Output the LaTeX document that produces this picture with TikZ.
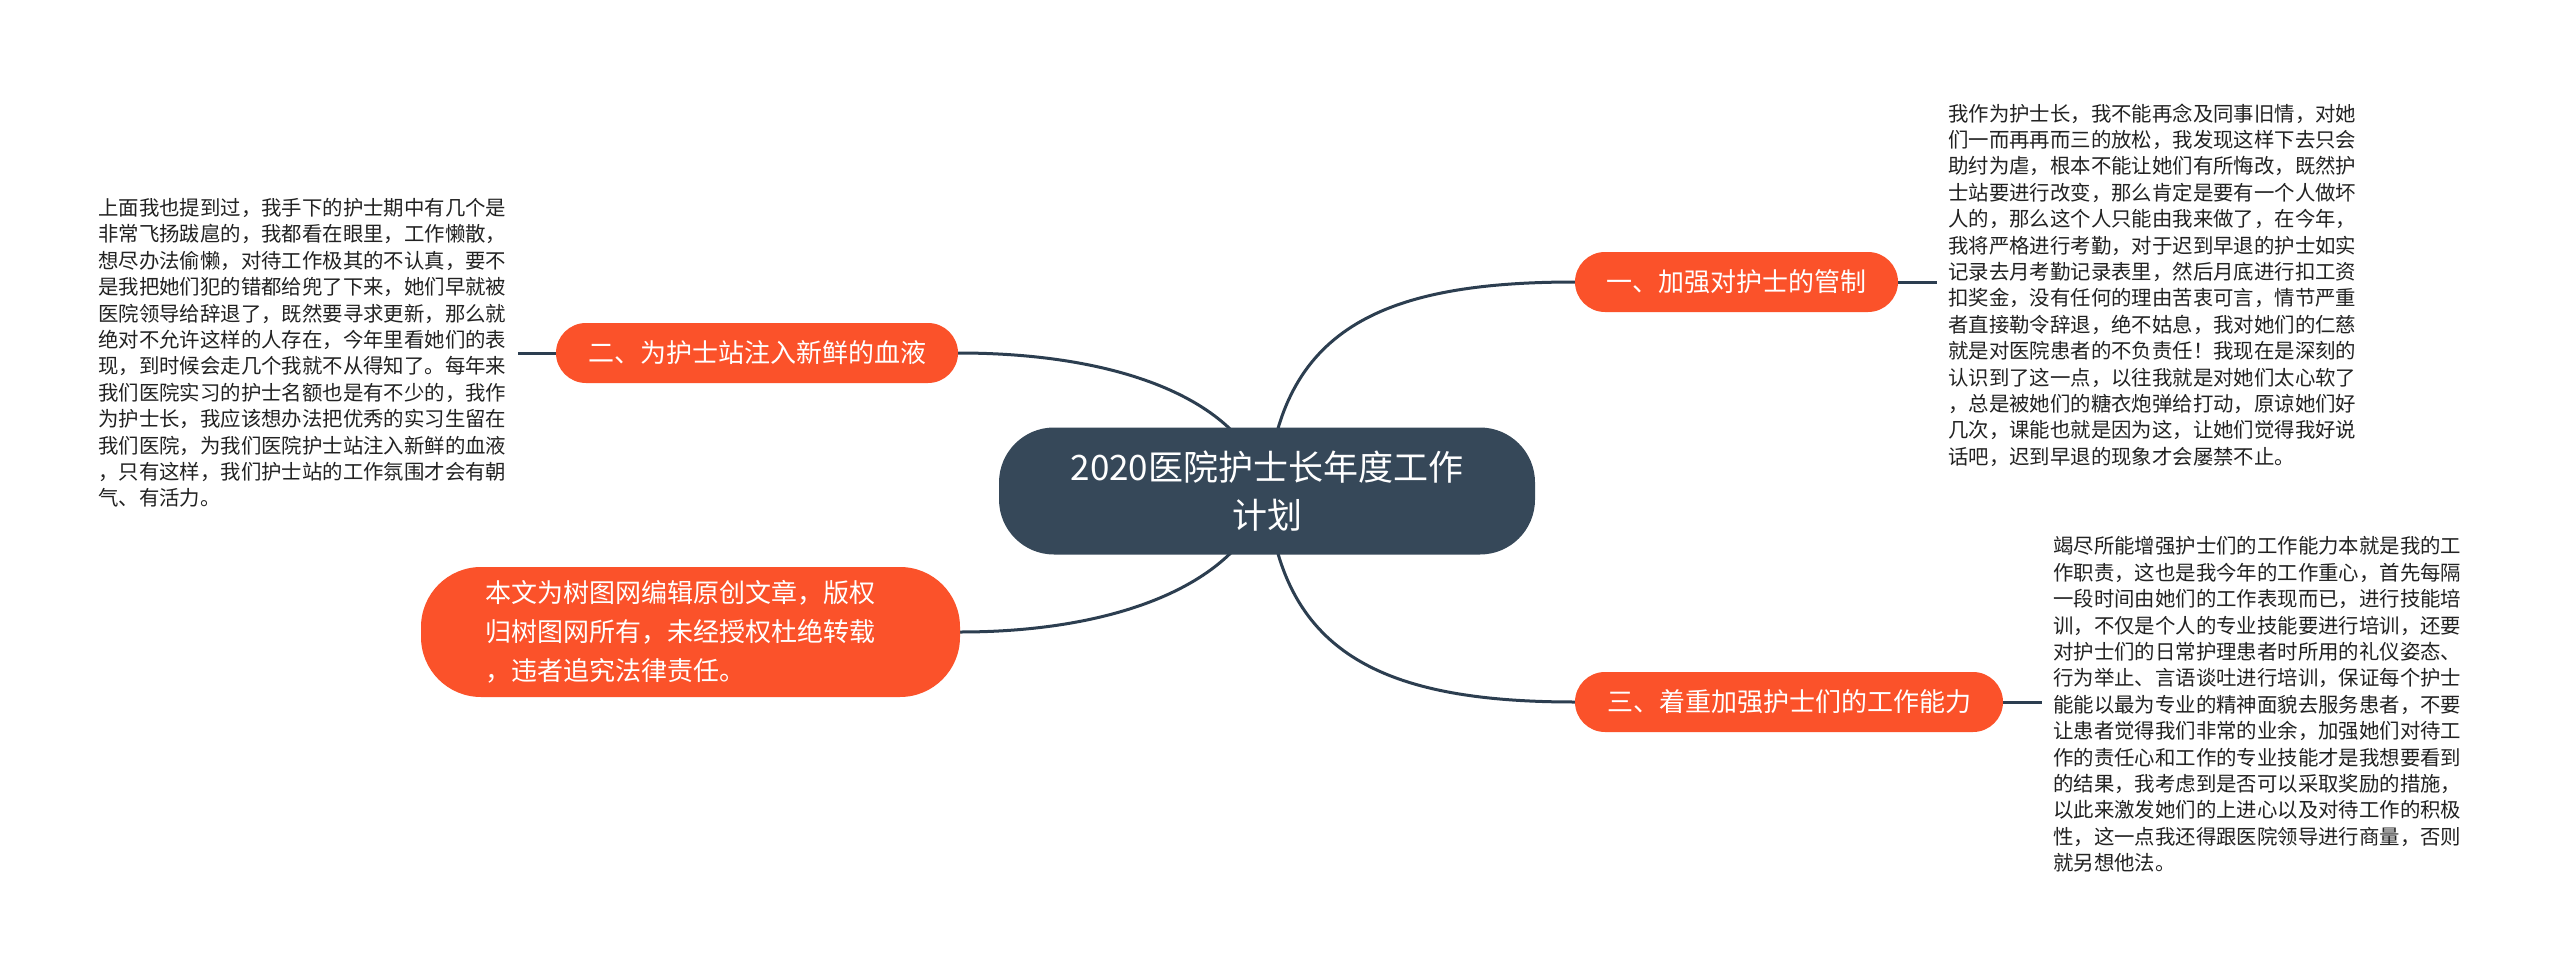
\documentclass[tikz,border=0pt]{standalone}
\usepackage{fontspec}
\usetikzlibrary{backgrounds}
\newfontfamily\cjk{Noto Sans CJK SC}
\definecolor{cenfill}{RGB}{54,72,89}
\definecolor{orangefill}{RGB}{251,82,42}
\definecolor{linecol}{RGB}{44,62,80}
\definecolor{bodytext}{RGB}{34,34,34}
\tikzset{
  central/.style={fill=cenfill, text=white, rounded corners=55pt, minimum width=536pt, minimum height=127pt, inner sep=0pt, align=center, font=\cjk\fontsize{35}{48}\selectfont},
  branchbox/.style={fill=orangefill, text=white, rounded corners=30pt, minimum height=60pt, inner sep=0pt, font=\cjk\fontsize{26}{30}\selectfont},
  notebox/.style={fill=orangefill, text=white, rounded corners=60pt, minimum height=130pt, inner ysep=0pt, inner xsep=64pt, text width=411pt, align=left, font=\cjk\fontsize{26}{39}\selectfont},
  bodyblock/.style={anchor=west, inner sep=0pt, align=left, text=bodytext, font=\cjk\fontsize{20.4}{26.4}\selectfont},
  conn/.style={draw=linecol, line width=3pt}
}
\begin{document}
\begin{tikzpicture}[x=1pt,y=-1pt]
\useasboundingbox (0,0) rectangle (2560,971);

% nodes
\node[central] (cen) at (1267,491) {2020医院护士长年度工作\\计划};
\node[branchbox, minimum width=323pt] (b1) at (1736.5,282) {一、加强对护士的管制};
\node[branchbox, minimum width=402pt] (b2) at (757,353) {二、为护士站注入新鲜的血液};
\node[branchbox, minimum width=428pt] (b3) at (1789,702) {三、着重加强护士们的工作能力};
\node[notebox] (note) at (690.5,632) {本文为树图网编辑原创文章，版权\\归树图网所有，未经授权杜绝转载\\，违者追究法律责任。};

\node[bodyblock] (t1) at (1948,285) {我作为护士长，我不能再念及同事旧情，对她\\们一而再再而三的放松，我发现这样下去只会\\助纣为虐，根本不能让她们有所悔改，既然护\\士站要进行改变，那么肯定是要有一个人做坏\\人的，那么这个人只能由我来做了，在今年，\\我将严格进行考勤，对于迟到早退的护士如实\\记录去月考勤记录表里，然后月底进行扣工资\\扣奖金，没有任何的理由苦衷可言，情节严重\\者直接勒令辞退，绝不姑息，我对她们的仁慈\\就是对医院患者的不负责任！我现在是深刻的\\认识到了这一点，以往我就是对她们太心软了\\，总是被她们的糖衣炮弹给打动，原谅她们好\\几次，课能也就是因为这，让她们觉得我好说\\话吧，迟到早退的现象才会屡禁不止。};

\node[bodyblock] (t3) at (2053,704.5) {竭尽所能增强护士们的工作能力本就是我的工\\作职责，这也是我今年的工作重心，首先每隔\\一段时间由她们的工作表现而已，进行技能培\\训，不仅是个人的专业技能要进行培训，还要\\对护士们的日常护理患者时所用的礼仪姿态、\\行为举止、言语谈吐进行培训，保证每个护士\\能能以最为专业的精神面貌去服务患者，不要\\让患者觉得我们非常的业余，加强她们对待工\\作的责任心和工作的专业技能才是我想要看到\\的结果，我考虑到是否可以采取奖励的措施，\\以此来激发她们的上进心以及对待工作的积极\\性，这一点我还得跟医院领导进行商量，否则\\就另想他法。};

\node[bodyblock] (t2) at (98,353) {上面我也提到过，我手下的护士期中有几个是\\非常飞扬跋扈的，我都看在眼里，工作懒散，\\想尽办法偷懒，对待工作极其的不认真，要不\\是我把她们犯的错都给兜了下来，她们早就被\\医院领导给辞退了，既然要寻求更新，那么就\\绝对不允许这样的人存在，今年里看她们的表\\现，到时候会走几个我就不从得知了。每年来\\我们医院实习的护士名额也是有不少的，我作\\为护士长，我应该想办法把优秀的实习生留在\\我们医院，为我们医院护士站注入新鲜的血液\\，只有这样，我们护士站的工作氛围才会有朝\\气、有活力。};

\coordinate (e1) at (1937,282);
\coordinate (e3) at (2042,702);
\coordinate (e2) at (518,353);

% connectors behind nodes
\begin{scope}[on background layer]
\fill[white] (0,0) rectangle (2560,971);
\draw[conn] (cen.center) .. controls (1280,330) and (1380,282) .. (b1.west);
\draw[conn] (cen.center) .. controls (1245,400) and (1120,353) .. (b2.east);
\draw[conn] (cen.center) .. controls (1245,582) and (1120,632) .. (note.east);
\draw[conn] (cen.center) .. controls (1280,652) and (1380,702) .. (b3.west);
\draw[conn] (b1.east) -- (e1);
\draw[conn] (b3.east) -- (e3);
\draw[conn] (b2.west) -- (e2);
\end{scope}
\end{tikzpicture}
\end{document}
